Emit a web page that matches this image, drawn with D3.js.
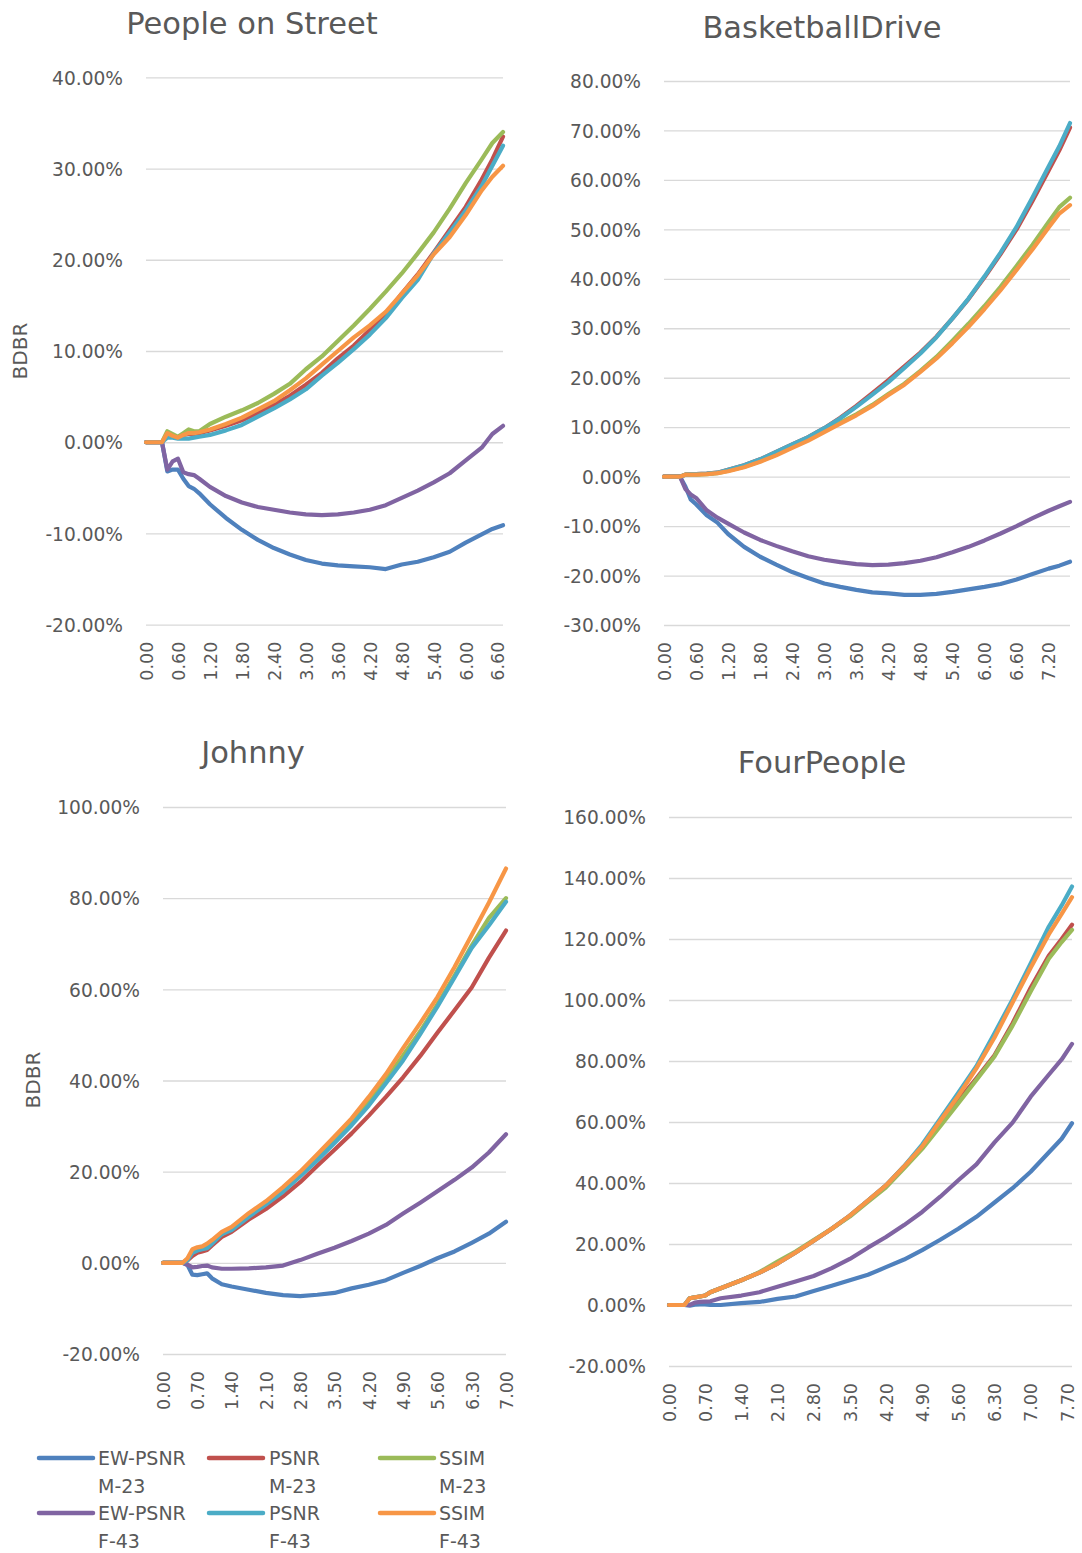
<!DOCTYPE html>
<html>
<head>
<meta charset="utf-8">
<style>
  body { margin: 0; background: #fff; }
  text { font-family: "DejaVu Sans", sans-serif; fill: #595959; }
</style>
</head>
<body>
<svg id="chart" width="1082" height="1553"></svg>

<script src="https://d3js.org/d3.v7.min.js"></script>
<script>
// Series (order = draw order)
var seriesNames = ["EW-PSNR M-23", "PSNR M-23", "SSIM M-23", "EW-PSNR F-43", "PSNR F-43", "SSIM F-43"];
var seriesColors = ["#4F81BD", "#C0504D", "#9BBB59", "#8064A2", "#4BACC6", "#F79646"];

// People on Street
var xs1 = [0,0.1,0.2,0.3,0.4,0.5,0.6,0.7,0.8,0.9,1.0,1.2,1.5,1.8,2.1,2.4,2.7,3.0,3.3,3.6,3.9,4.2,4.5,4.8,5.1,5.4,5.7,6.0,6.3,6.5,6.7];
var ewM1   = [0,0,0,0,-3.2,-3.0,-3.0,-4.0,-4.8,-5.1,-5.6,-6.8,-8.3,-9.6,-10.7,-11.6,-12.3,-12.9,-13.3,-13.5,-13.6,-13.7,-13.9,-13.4,-13.1,-12.6,-12.0,-11.0,-10.1,-9.5,-9.1];
var psnrM1 = [0,0,0,0,0.8,0.6,0.5,0.8,0.9,0.9,1.0,1.3,1.8,2.4,3.2,4.1,5.1,6.3,7.6,9.2,10.6,12.3,14.0,16.3,18.4,20.8,23.3,25.8,28.8,31.0,33.5];
var ssimM1 = [0,0,0,0,1.2,0.9,0.6,1.0,1.4,1.2,1.2,2.0,2.8,3.5,4.3,5.3,6.4,8.0,9.4,11.1,12.8,14.6,16.5,18.5,20.7,23.0,25.6,28.4,31.0,32.8,34.0];
var ewF1   = [0,0,0,0,-3.0,-2.1,-1.8,-3.3,-3.5,-3.6,-4.0,-4.9,-5.9,-6.6,-7.1,-7.4,-7.7,-7.9,-8.0,-7.9,-7.7,-7.4,-6.9,-6.1,-5.3,-4.4,-3.4,-2.0,-0.6,0.9,1.8];
var psnrF1 = [0,0,0,0,0.5,0.5,0.4,0.4,0.4,0.5,0.6,0.8,1.3,1.9,2.8,3.7,4.7,5.8,7.3,8.7,10.2,11.8,13.6,15.8,17.8,20.7,23.0,25.4,28.1,30.3,32.5];
var ssimF1 = [0,0,0,0,1.0,0.7,0.5,0.8,1.0,1.0,1.1,1.4,2.0,2.7,3.6,4.5,5.7,7.0,8.5,10.0,11.5,12.8,14.3,16.3,18.3,20.6,22.5,24.9,27.6,29.1,30.3];
var xTicks1 = [0,0.6,1.2,1.8,2.4,3.0,3.6,4.2,4.8,5.4,6.0,6.6];
var yTicks1 = [-20,-10,0,10,20,30,40];

// BasketballDrive
var xs2 = [0,0.1,0.2,0.3,0.4,0.5,0.6,0.8,1.0,1.2,1.5,1.8,2.1,2.4,2.7,3.0,3.3,3.6,3.9,4.2,4.5,4.8,5.1,5.4,5.7,6.0,6.3,6.6,6.9,7.2,7.4,7.6];
var ewM2   = [0,0,0,0,-2.0,-4.6,-5.6,-7.8,-9.3,-11.6,-14.2,-16.2,-17.8,-19.3,-20.5,-21.6,-22.3,-22.9,-23.4,-23.6,-23.9,-23.9,-23.7,-23.3,-22.8,-22.3,-21.7,-20.8,-19.7,-18.6,-18.0,-17.2];
var psnrM2 = [0,0,0,0,0.4,0.5,0.5,0.6,0.8,1.4,2.3,3.5,5.0,6.5,8.0,9.8,11.9,14.3,16.9,19.5,22.3,25.1,28.3,32.0,35.9,40.3,45.0,50.0,55.8,61.9,66.0,70.6];
var ssimM2 = [0,0,0,0,0.4,0.4,0.4,0.5,0.7,1.2,2.0,3.1,4.5,6.0,7.5,9.3,10.9,12.6,14.5,16.7,18.8,21.4,24.2,27.5,30.9,34.5,38.4,42.6,46.9,51.5,54.5,56.4];
var ewF2   = [0,0,0,0,-2.5,-3.6,-4.3,-6.8,-8.3,-9.5,-11.3,-12.8,-14.0,-15.1,-16.1,-16.8,-17.3,-17.7,-17.9,-17.8,-17.5,-17.0,-16.3,-15.3,-14.2,-12.9,-11.5,-10.0,-8.4,-6.9,-6.0,-5.1];
var psnrF2 = [0,0,0,0,0.4,0.5,0.5,0.6,0.8,1.4,2.3,3.5,5.0,6.5,8.0,9.8,11.8,14.1,16.6,19.1,22.0,24.9,28.2,32.0,36.0,40.5,45.3,50.5,56.5,62.7,66.8,71.5];
var ssimF2 = [0,0,0,0,0.4,0.4,0.4,0.5,0.7,1.1,1.9,3.0,4.3,5.8,7.3,9.0,10.7,12.4,14.3,16.5,18.6,21.2,23.9,27.0,30.3,33.9,37.7,41.8,46.0,50.4,53.2,54.9];
var xTicks2 = [0,0.6,1.2,1.8,2.4,3.0,3.6,4.2,4.8,5.4,6.0,6.6,7.2];
var yTicks2 = [-30,-20,-10,0,10,20,30,40,50,60,70,80];

// Johnny
var xs3 = [0,0.1,0.2,0.3,0.4,0.5,0.6,0.7,0.8,0.9,1.0,1.2,1.4,1.75,2.1,2.45,2.8,3.15,3.5,3.85,4.2,4.55,4.9,5.25,5.6,5.95,6.3,6.65,7.0];
var ewM3   = [0,0,0,0,0,-0.5,-2.6,-2.7,-2.5,-2.3,-3.4,-4.7,-5.2,-5.9,-6.6,-7.1,-7.3,-7.0,-6.6,-5.6,-4.8,-3.8,-2.2,-0.7,1.0,2.5,4.4,6.4,9.0];
var psnrM3 = [0,0,0,0,0,0.5,1.5,2.2,2.5,2.8,3.8,5.7,6.8,9.5,11.8,14.6,17.7,21.3,24.8,28.4,32.3,36.4,40.7,45.4,50.5,55.4,60.4,66.9,72.9];
var ssimM3 = [0,0,0,0,0,0.8,2.5,3.0,3.3,3.8,4.6,6.3,7.6,10.4,13.1,16.1,19.5,23.3,27.1,31.0,35.5,40.1,45.5,50.8,56.7,63.0,69.6,75.6,80.0];
var ewF3   = [0,0,0,0,0,-0.4,-1.0,-0.9,-0.7,-0.6,-1.0,-1.3,-1.3,-1.2,-1.0,-0.6,0.6,2.0,3.3,4.8,6.4,8.3,10.8,13.2,15.7,18.2,20.9,24.2,28.2];
var psnrF3 = [0,0,0,0,0,0.6,2.2,2.7,3.0,3.2,4.2,6.3,7.2,10.1,12.8,15.6,19.0,22.5,26.3,30.2,34.5,39.4,44.4,50.2,56.2,62.6,69.1,74.0,79.2];
var ssimF3 = [0,0,0,0,0,1.0,3.0,3.4,3.6,4.2,5.0,6.8,7.9,10.9,13.5,16.6,20.0,23.8,27.7,31.7,36.4,41.4,47.1,52.6,58.3,64.9,71.9,79.0,86.5];
var xTicks3 = [0,0.7,1.4,2.1,2.8,3.5,4.2,4.9,5.6,6.3,7.0];
var yTicks3 = [-20,0,20,40,60,80,100];

// FourPeople
var xs4 = [0,0.1,0.2,0.3,0.4,0.5,0.6,0.7,0.8,1.0,1.4,1.75,2.1,2.45,2.8,3.15,3.5,3.85,4.2,4.55,4.9,5.25,5.6,5.95,6.3,6.65,7.0,7.35,7.6,7.8];
var ewM4   = [0,0,0,0,-0.2,0.1,0.2,0.2,0.0,0.0,0.6,1.0,2.0,2.8,4.6,6.3,8.1,9.9,12.4,14.9,18.0,21.4,25.0,28.9,33.6,38.3,43.7,50.0,54.5,59.6];
var psnrM4 = [0,0,0,0,2.2,2.5,2.8,3.1,4.2,5.5,8.1,10.6,13.6,17.2,21.1,25.0,29.3,34.2,39.2,45.4,52.0,59.3,67.0,74.3,81.9,92.4,104.0,114.5,120.0,124.7];
var ssimM4 = [0,0,0,0,2.2,2.5,2.8,3.1,4.2,5.5,8.1,10.8,14.2,17.5,21.3,25.0,29.0,33.8,38.6,44.8,51.2,58.6,66.2,73.8,81.5,91.6,102.8,113.5,119.0,123.0];
var ewF4   = [0,0,0,0,0,0.8,1.0,1.1,1.2,2.2,3.1,4.2,6.0,7.7,9.5,12.1,15.1,18.8,22.3,26.2,30.5,35.5,40.9,46.1,53.3,59.8,68.3,75.5,80.5,85.6];
var psnrF4 = [0,0,0,0,2.2,2.5,2.8,3.1,4.2,5.5,8.1,10.6,13.6,17.2,21.1,25.0,29.3,34.2,39.2,45.5,52.6,61.1,69.6,78.3,89.1,100.2,112.0,124.0,131.0,137.2];
var ssimF4 = [0,0,0,0,2.2,2.5,2.8,3.1,4.2,5.5,8.1,10.6,13.6,17.2,21.1,25.0,29.3,34.2,39.2,45.4,52.0,60.4,68.6,77.6,87.7,99.2,110.6,121.5,128.2,133.7];
var xTicks4 = [0,0.7,1.4,2.1,2.8,3.5,4.2,4.9,5.6,6.3,7.0,7.7];
var yTicks4 = [-20,0,20,40,60,80,100,120,140,160];

// panel layout (pixel boxes of the plot areas)
var panels = [
  { title: "People on Street", xs: xs1, series: [ewM1, psnrM1, ssimM1, ewF1, psnrF1, ssimF1],
    xTicks: xTicks1, yTicks: yTicks1, left: 146, right: 503, top: 77.3, bottom: 624.7,
    titleX: 252, titleY: 34, bdbr: [27, 351] },
  { title: "BasketballDrive", xs: xs2, series: [ewM2, psnrM2, ssimM2, ewF2, psnrF2, ssimF2],
    xTicks: xTicks2, yTicks: yTicks2, left: 664, right: 1070, top: 81, bottom: 625,
    titleX: 822, titleY: 38 },
  { title: "Johnny", xs: xs3, series: [ewM3, psnrM3, ssimM3, ewF3, psnrF3, ssimF3],
    xTicks: xTicks3, yTicks: yTicks3, left: 163, right: 506, top: 807, bottom: 1354,
    titleX: 253, titleY: 763, bdbr: [40, 1080] },
  { title: "FourPeople", xs: xs4, series: [ewM4, psnrM4, ssimM4, ewF4, psnrF4, ssimF4],
    xTicks: xTicks4, yTicks: yTicks4, left: 669, right: 1072, top: 817, bottom: 1366,
    titleX: 822, titleY: 773 }
];

var svg = d3.select("#chart");

panels.forEach(function(p) {
  var g = svg.append("g");

  var x = d3.scaleLinear()
      .domain([0, d3.max(p.xs)])
      .range([p.left, p.right]);
  var y = d3.scaleLinear()
      .domain([d3.min(p.yTicks), d3.max(p.yTicks)])
      .range([p.bottom, p.top]);

  // gridlines + y labels
  var yAxis = g.append("g")
      .attr("transform", "translate(" + p.left + ",0)")
      .call(d3.axisLeft(y)
        .tickValues(p.yTicks)
        .tickSize(-(p.right - p.left))
        .tickPadding(23)
        .tickFormat(function(d) { return d.toFixed(2) + "%"; }));
  yAxis.select(".domain").remove();
  yAxis.selectAll("line").attr("stroke", "#D9D9D9").attr("stroke-width", 1.3);
  yAxis.selectAll("text")
      .attr("font-size", 18.6)
      .attr("dy", "0.36em")
      .style("font-family", "DejaVu Sans")
      .attr("fill", "#595959");

  // x labels, rotated
  var xAxis = g.append("g")
      .attr("transform", "translate(0," + p.bottom + ")")
      .call(d3.axisBottom(x)
        .tickValues(p.xTicks)
        .tickSize(0)
        .tickFormat(d3.format(".2f")));
  xAxis.select(".domain").remove();
  xAxis.selectAll("text")
      .attr("transform", "rotate(-90)")
      .attr("text-anchor", "end")
      .attr("x", -17)
      .attr("y", 0)
      .attr("dy", "0.36em")
      .attr("font-size", 17.5)
      .style("font-family", "DejaVu Sans")
      .attr("fill", "#595959");

  // series lines
  var line = d3.line()
      .x(function(d, i) { return x(p.xs[i]); })
      .y(function(d) { return y(d); });

  p.series.forEach(function(s, k) {
    g.append("path")
        .datum(s)
        .attr("d", line)
        .attr("fill", "none")
        .attr("stroke", seriesColors[k])
        .attr("stroke-width", 4.2)
        .attr("stroke-linejoin", "round")
        .attr("stroke-linecap", "round");
  });

  // title
  g.append("text")
      .attr("x", p.titleX)
      .attr("y", p.titleY)
      .attr("text-anchor", "middle")
      .attr("font-size", 30.5)
      .text(p.title);

  // y axis name
  if (p.bdbr) {
    g.append("text")
        .attr("transform", "translate(" + p.bdbr[0] + "," + p.bdbr[1] + ") rotate(-90)")
        .attr("text-anchor", "middle")
        .attr("font-size", 20)
        .text("BDBR");
  }
});

// legend
var legendSwatchX = [39, 209, 380];
var legendTextX = [98, 269, 439];
var legendRowY = [1458, 1513];

var legend = svg.append("g");
seriesNames.forEach(function(name, i) {
  var col = i % 3, row = Math.floor(i / 3);
  var ly = legendRowY[row];
  legend.append("line")
      .attr("x1", legendSwatchX[col])
      .attr("x2", legendSwatchX[col] + 54)
      .attr("y1", ly)
      .attr("y2", ly)
      .attr("stroke", seriesColors[i])
      .attr("stroke-width", 4.5)
      .attr("stroke-linecap", "round");
  var parts = name.split(" ");
  var t = legend.append("text")
      .attr("x", legendTextX[col])
      .attr("y", ly + 7)
      .attr("font-size", 19);
  t.append("tspan").attr("x", legendTextX[col]).text(parts[0]);
  t.append("tspan").attr("x", legendTextX[col]).attr("dy", 28).text(parts[1]);
});
</script>
</body>
</html>
